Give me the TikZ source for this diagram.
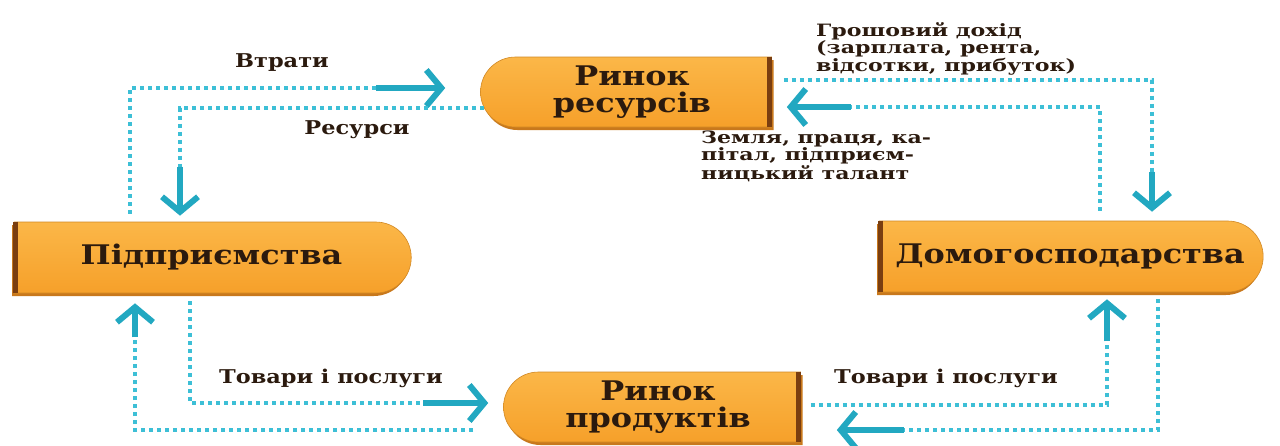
\documentclass[tikz,border=0pt]{standalone}
\usepackage{fontspec}
\setmainfont{DejaVu Serif}
\newfontfamily\lblfont[FakeStretch=1.18]{DejaVu Serif}
\newfontfamily\notefont[FakeStretch=1.3]{DejaVu Serif}
\usepackage{tikz}
\usetikzlibrary{arrows.meta,positioning,shapes.misc,shadows}
\definecolor{mkorange}{HTML}{F6A02A}
\definecolor{mkorangelt}{HTML}{FBB748}
\definecolor{mkbrown}{HTML}{7A3E10}
\definecolor{mkshadow}{HTML}{C8781C}
\definecolor{mkcyan}{HTML}{3DBFD6}
\definecolor{mkteal}{HTML}{22A8C1}
\definecolor{mktext}{HTML}{2B1A0E}
\tikzset{
  dotline/.style={draw=mkcyan, line width=4pt, dash pattern=on 4pt off 4pt},
  flowarrow/.style={draw=mkteal, line width=6pt, -{Straight Barb[length=15pt, width=36pt]}},
  marketbox/.style={rounded rectangle, rounded rectangle east arc=none,
    top color=mkorangelt, bottom color=mkorange, draw=mkorange!85!black, line width=0.6pt,
    minimum height=70pt, align=center, inner sep=0pt, text=mktext,
    font=\lblfont\bfseries\fontsize{27}{27}\selectfont,
    drop shadow={shadow xshift=2pt, shadow yshift=-3pt, fill=mkshadow, opacity=1}},
  agentbox/.style={rounded rectangle, rounded rectangle west arc=none,
    top color=mkorangelt, bottom color=mkorange, draw=mkorange!85!black, line width=0.6pt,
    minimum height=71pt, align=center, inner sep=0pt, text=mktext,
    font=\lblfont\bfseries\fontsize{27}{27}\selectfont,
    drop shadow={shadow xshift=-2pt, shadow yshift=-3pt, fill=mkshadow, opacity=1}},
  sideedge/.style={draw=mkbrown, line width=5pt},
  flowlabel/.style={font=\lblfont\bfseries\fontsize{19}{19}\selectfont, text=mktext, inner sep=1pt},
  noteblock/.style={font=\notefont\bfseries\fontsize{17}{14.5}\selectfont, text=mktext,
    align=left, inner sep=1pt}
}
\begin{document}
\begin{tikzpicture}[x=1pt, y=-1pt]
    \useasboundingbox[fill=white] (0,0) rectangle (1280,445);

    \node[marketbox, minimum width=291pt] (res) at (632,92) {Ринок\\ресурсів};
    \node[agentbox, minimum width=397pt] (firm) at (211.5,257.5) {Підприємства};
    \node[agentbox, minimum width=384pt] (house) at (1070,256.5) {Домогосподарства};
    \node[marketbox, minimum width=297pt] (prod) at (658,407) {Ринок\\продуктів};

    \draw[sideedge] ([xshift=-2pt]res.north -| res.east) -- ([xshift=-2pt]res.south -| res.east);
    \draw[sideedge] ([xshift=2pt]firm.north -| firm.west) -- ([xshift=2pt]firm.south -| firm.west);
    \draw[sideedge] ([xshift=2pt]house.north -| house.west) -- ([xshift=2pt]house.south -| house.west);
    \draw[sideedge] ([xshift=-2pt]prod.north -| prod.east) -- ([xshift=-2pt]prod.south -| prod.east);

    \draw[dotline] ([xshift=-81.5pt,yshift=8pt]firm.north) |- ([xshift=-104pt,yshift=4pt]res.west);
    \draw[flowarrow] ([xshift=-104pt,yshift=4pt]res.west) -- ([xshift=-35pt,yshift=4pt]res.west);
    \draw[dotline] ([xshift=4pt,yshift=-16pt]res.west) -| ([xshift=-31.5pt,yshift=55pt]firm.north);
    \draw[flowarrow] ([xshift=-31.5pt,yshift=55pt]firm.north) -- ([xshift=-31.5pt,yshift=6pt]firm.north);

    \draw[dotline] ([xshift=12pt,yshift=12pt]res.east) -| ([xshift=82pt,yshift=49pt]house.north);
    \draw[flowarrow] ([xshift=82pt,yshift=49pt]house.north) -- ([xshift=82pt,yshift=9pt]house.north);
    \draw[dotline] ([xshift=30pt,yshift=10pt]house.north) |- ([xshift=79pt,yshift=-15pt]res.east);
    \draw[flowarrow] ([xshift=79pt,yshift=-15pt]res.east) -- ([xshift=15pt,yshift=-15pt]res.east);

    \draw[dotline] ([xshift=-21.5pt,yshift=-8pt]firm.south) |- ([xshift=-80pt,yshift=4pt]prod.west);
    \draw[flowarrow] ([xshift=-80pt,yshift=4pt]prod.west) -- ([xshift=-15pt,yshift=4pt]prod.west);
    \draw[dotline] ([xshift=-30pt,yshift=-23pt]prod.west) -| ([xshift=-76.5pt,yshift=-44pt]firm.south);
    \draw[flowarrow] ([xshift=-76.5pt,yshift=-44pt]firm.south) -- ([xshift=-76.5pt,yshift=-10pt]firm.south);

    \draw[dotline] ([xshift=10pt,yshift=2pt]prod.east) -| ([xshift=37pt,yshift=-49pt]house.south);
    \draw[flowarrow] ([xshift=37pt,yshift=-49pt]house.south) -- ([xshift=37pt,yshift=-7pt]house.south);
    \draw[dotline] ([xshift=88pt,yshift=-7pt]house.south) |- ([xshift=103pt,yshift=-23pt]prod.east);
    \draw[flowarrow] ([xshift=103pt,yshift=-23pt]prod.east) -- ([xshift=36pt,yshift=-23pt]prod.east);

    \node[flowlabel] (lbllost) at (282,63) {Втрати};
    \node[flowlabel] (lblres) at (357,130) {Ресурси};
    \node[noteblock, anchor=west] (lblincome) at (815,49) {Грошовий дохід\\(зарплата, рента,\\відсотки, прибуток)};
    \node[noteblock, anchor=west] (lblfactors) at (700,156) {Земля, праця, ка-\\пітал, підприєм-\\ницький талант};
    \node[flowlabel] (lblgoodsl) at (331,378) {Товари і послуги};
    \node[flowlabel] (lblgoodsr) at (946,378) {Товари і послуги};
\end{tikzpicture}
\end{document}
